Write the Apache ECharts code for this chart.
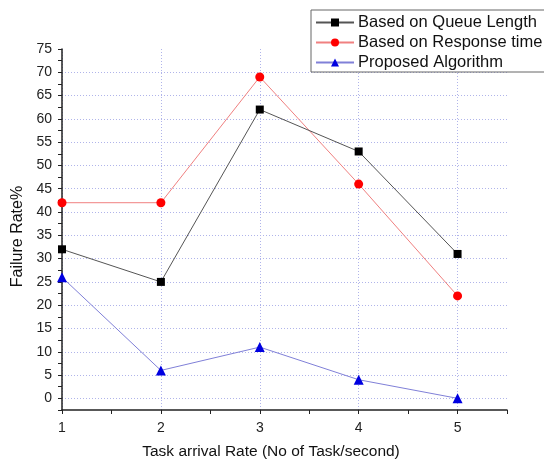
<!DOCTYPE html>
<html>
<head>
<meta charset="utf-8">
<script src="https://cdn.jsdelivr.net/npm/echarts@6/dist/echarts.min.js"></script>
<style>
  html, body { margin: 0; padding: 0; background: #fff; }
  #main { width: 544px; height: 461px; }
</style>
</head>
<body>
<div id="main"></div>
<script>
// task arrival rate (x) and failure rate % for each method
var rates = [1, 2, 3, 4, 5];
var queueLength = [32, 25, 62, 53, 31];
var responseTime = [42, 42, 69, 46, 22];
var proposed = [26, 6, 11, 4, 0];

var gridColor = '#b0b4ea';
var font = 'Liberation Sans';

function pairs(vals) {
    return rates.map(function (r, i) { return [r, vals[i]]; });
}

var chart = echarts.init(document.getElementById('main'));
chart.setOption({
    backgroundColor: '#fff',
    animation: false,
    textStyle: { fontFamily: font },
    grid: { left: 62, right: 37, top: 49, bottom: 51, outerBoundsMode: 'none', containLabel: false },
    legend: {
        orient: 'vertical',
        left: 311,
        top: 10,
        padding: [4, 4, 1, 4],
        itemWidth: 38,
        itemHeight: 10,
        itemGap: 3,
        backgroundColor: '#fff',
        borderColor: '#666',
        borderWidth: 1,
        z: 10,
        textStyle: { fontSize: 16.5, color: '#111', fontFamily: font, padding: [0, 0, 0, -1] },
        data: ['Based on Queue Length', 'Based on Response time', 'Proposed Algorithm']
    },
    xAxis: {
        type: 'value',
        min: 1,
        max: 5.5,
        interval: 0.5,
        name: 'Task arrival Rate (No of Task/second)',
        nameLocation: 'middle',
        nameGap: 34,
        nameTextStyle: { fontSize: 15.5, color: '#111', padding: [0, 27, 0, 0] },
        axisLine: { onZero: false, lineStyle: { color: '#222', width: 1.5 } },
        axisTick: { length: 4, lineStyle: { color: '#222' } },
        axisLabel: {
            fontSize: 14, color: '#222', margin: 11,
            formatter: function (v) { return (v % 1 === 0 && v <= 5) ? String(v) : ''; }
        },
        splitLine: {
            show: true,
            lineStyle: { color: [gridColor, 'rgba(0,0,0,0)'], type: [1, 2], width: 1 }
        }
    },
    yAxis: {
        type: 'value',
        min: -2.5,
        max: 75,
        interval: 2.5,
        name: 'Failure Rate%',
        nameLocation: 'middle',
        nameGap: 33,
        nameTextStyle: { fontSize: 16, color: '#111', padding: [0, 14, 0, 0] },
        axisLine: { show: true, lineStyle: { color: '#222', width: 1.5 } },
        axisTick: { show: true, length: 4, lineStyle: { color: '#222' } },
        axisLabel: {
            fontSize: 14, color: '#222', margin: 10,
            formatter: function (v) { return (v >= 0 && v % 5 === 0) ? String(v) : ''; }
        },
        splitLine: {
            show: true,
            showMaxLine: false,
            lineStyle: { color: ['rgba(0,0,0,0)', gridColor], type: [1, 2], width: 1 }
        }
    },
    series: [
        {
            name: 'Based on Queue Length',
            type: 'line',
            data: pairs(queueLength),
            symbol: 'rect',
            symbolSize: 8,
            itemStyle: { color: '#000' },
            lineStyle: { color: '#555', width: 1 },
            z: 3
        },
        {
            name: 'Based on Response time',
            type: 'line',
            data: pairs(responseTime),
            symbol: 'circle',
            symbolSize: 9,
            itemStyle: { color: '#f00' },
            lineStyle: { color: '#f08080', width: 1 },
            z: 2
        },
        {
            name: 'Proposed Algorithm',
            type: 'line',
            data: pairs(proposed),
            symbol: 'triangle',
            symbolSize: 10,
            itemStyle: { color: '#0000e0' },
            lineStyle: { color: '#8080d8', width: 1 },
            z: 2
        }
    ]
});
</script>
</body>
</html>
